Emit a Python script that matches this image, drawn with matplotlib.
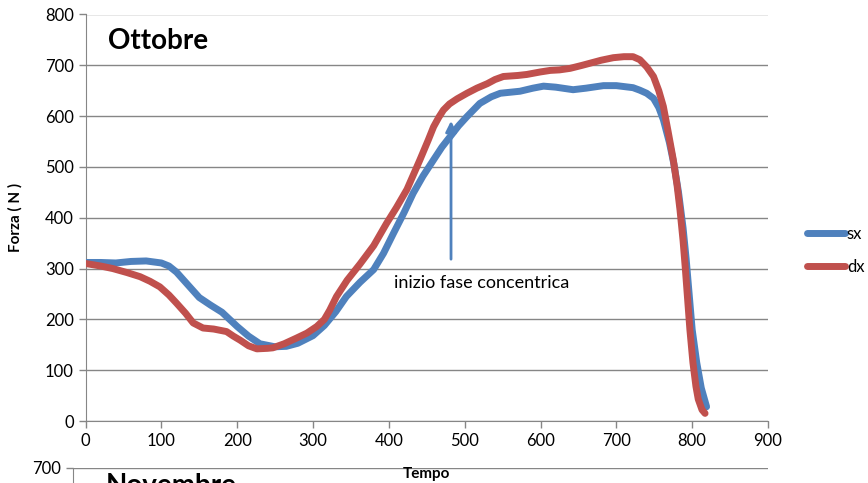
import numpy as np
import matplotlib
matplotlib.use("Agg")
import matplotlib.pyplot as plt

plt.rcParams['font.family'] = ['Lato', 'DejaVu Sans']

# --- data (Tempo vs Forza) ---
sx_t = [0, 20, 40, 60, 80, 100, 110, 120, 135, 150, 165, 180, 200, 215, 230,
        250, 265, 280, 300, 315, 330, 344, 362, 380, 393, 406, 420, 432, 445,
        459, 470, 481, 492, 503, 520, 535, 547, 560, 573, 590, 604, 620, 643,
        660, 683, 700, 722, 731, 740, 749, 756, 762, 770, 776, 782, 788, 792,
        796, 800, 806, 812, 819]
sx_f = [312, 312, 311, 314, 315, 311, 305, 293, 268, 243, 228, 214, 186, 167, 152,
        146, 147, 153, 168, 188, 215, 245, 273, 298, 330, 369, 410, 448, 482,
        514, 539, 560, 581, 599, 625, 638, 645, 647, 649, 655, 659, 657, 652,
        655, 660, 660, 656, 651, 645, 635, 617, 593, 548, 505, 450, 380, 320,
        250, 180, 115, 65, 28]

dx_t = [0, 20, 36, 55, 72, 85, 98, 110, 120, 132, 142, 155, 169, 186, 195,
        204, 215, 226, 240, 247, 262, 278, 292, 305, 315, 322, 331, 345, 362,
        380, 397, 410, 424, 441, 452, 459, 466, 472, 480, 490, 503, 516, 530,
        540, 551, 570, 582, 600, 613, 625, 639, 655, 665, 680, 696, 710, 722,
        731, 740, 749, 756, 762, 768, 775, 780, 784, 788, 791, 794, 797, 801,
        805, 808, 813, 817]
dx_f = [310, 305, 300, 292, 284, 275, 264, 248, 232, 212, 193, 183, 181, 176, 167,
        159, 148, 142, 143, 144, 152, 163, 173, 186, 200, 218, 245, 277, 309,
        345, 389, 420, 456, 514, 553, 579, 598, 612, 624, 634, 645, 655, 664,
        672, 678, 680, 682, 687, 690, 691, 694, 700, 704, 710, 715, 717, 717,
        711, 697, 678, 650, 619, 572, 515, 465, 415, 355, 300, 240, 180, 115,
        68, 43, 22, 15]

x_ticks = [0, 100, 200, 300, 400, 500, 600, 700, 800, 900]
y_ticks = [0, 100, 200, 300, 400, 500, 600, 700, 800]

blue = '#4F81BD'
red = '#C0504D'
grid_c = '#868686'

fig = plt.figure(figsize=(8.68, 4.83), dpi=100)

# top of the next chart (Novembre), cut by the image border
ax2 = fig.add_axes([73 / 868, -1.0, (768 - 73) / 868, 1.0 + (483 - 468) / 483])
ax2.patch.set_visible(False)
ax2.set_ylim(0, 700)
ax2.set_xlim(0, 900)
ax2.set_yticks([700])
ax2.set_xticks([])
ax2.yaxis.grid(True, color=grid_c, lw=1)
for s in ['top', 'right', 'bottom']:
    ax2.spines[s].set_visible(False)
ax2.spines['left'].set_color(grid_c)
ax2.tick_params(axis='y', colors=grid_c, length=5, width=1, labelcolor='black', labelsize=12)
fig.text(106 / 868, (483 - 473) / 483, 'Novembre', fontsize=20, fontweight='bold', va='top', ha='left')

ax = fig.add_axes([85.5 / 868, 62 / 483, (768 - 85.5) / 868, (421 - 14.5) / 483])
ax.patch.set_visible(False)

ax.plot(sx_t, sx_f, color=blue, lw=5, solid_capstyle='round', solid_joinstyle='round', label='sx', zorder=3)
ax.plot(dx_t, dx_f, color=red, lw=5, solid_capstyle='round', solid_joinstyle='round', label='dx', zorder=4)

ax.set_xlim(0, 900)
ax.set_ylim(0, 800)
ax.set_xticks(x_ticks)
ax.set_yticks(y_ticks)
ax.yaxis.grid(True, color=grid_c, lw=1)
ax.set_axisbelow(True)
for s in ['top', 'right']:
    ax.spines[s].set_visible(False)
for s in ['left', 'bottom']:
    ax.spines[s].set_color(grid_c)
ax.tick_params(axis='both', colors=grid_c, length=5, width=1, labelcolor='black', labelsize=12)
ax.tick_params(axis='x', pad=4)

ax.set_xlabel('Tempo', fontsize=11, fontweight='bold')
ax.set_ylabel('Forza ( N )', fontsize=11, fontweight='bold')
ax.xaxis.set_label_coords(0.5, -0.113)
ax.yaxis.set_label_coords(-0.092, 0.5)

ax.text(30, 748, 'Ottobre', fontsize=20, fontweight='bold', va='center', ha='left')

# annotation arrow
ax.annotate('', xy=(482, 596), xytext=(482, 313),
            arrowprops=dict(arrowstyle='-|>', color=blue, lw=2, mutation_scale=16))
ax.text(523, 272, 'inizio fase concentrica', fontsize=13, ha='center', va='center')

ax.legend(loc='center left', bbox_to_anchor=(1.057, 0.42), frameon=False,
          fontsize=12, handlelength=2.3, handletextpad=0.1, labelspacing=1.0,
          borderaxespad=0, borderpad=0)

fig.savefig('out.png', dpi=100)
